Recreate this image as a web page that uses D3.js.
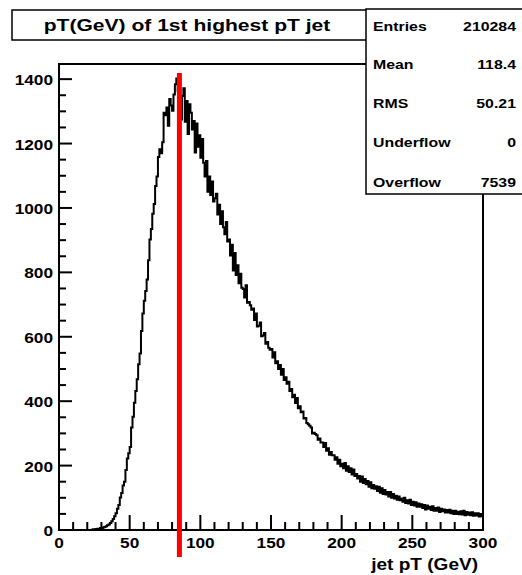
<!DOCTYPE html>
<html>
<head>
<meta charset="utf-8">
<script src="https://cdn.jsdelivr.net/npm/d3@7"></script>
<style>
  body { margin: 0; background: #fff; }
  text { font-family: "Liberation Sans", Arial, sans-serif; font-weight: bold; fill: #000; }
</style>
</head>
<body>
<div id="chart"></div>
<script>
// histogram contents, 1 GeV bins from 0 to 300
var counts = [
  0,0,0,0,0,0,0,0,0,0, 0,0,0,0,0,0,0,0,0,0, 0,0,0,
  1,2,1,3,4,3,6,5,8,9,12,15,17,22,27,34,43,
  52,66,78,101,115,138,150,186,222,238,
  258,318,352,395,432,468,515,548,618,672,
  712,742,778,838,902,935,982,1012,1068,1098,
  1158,1182,1170,1204,1296,1288,1312,1255,1338,1318,
  1302,1352,1384,1402,1362,1338,1275,1348,1372,1268,
  1332,1230,1322,1296,1244,1270,1172,1262,1190,1226,
  1156,1214,1140,1098,1146,1050,1098,1040,1082,1020,
  1030,1044,980,1010,950,990,940,918,956,896,
  902,852,886,806,860,792,822,766,796,752,
  748,722,760,706,708,698,684,688,652,672,
  632,634,644,602,604,612,578,584,566,560,
  562,536,552,518,524,500,512,482,500,466,
  474,454,460,432,438,412,420,394,410,378,
  384,366,368,346,348,332,328,324,318,300,
  302,298,294,280,284,272,272,258,270,246,
  254,234,242,232,232,218,226,206,218,198,
  206,192,208,184,198,180,192,172,188,168,
  174,160,168,150,166,146,158,142,152,134,
  148,130,140,128,136,121,134,116,130,112,
  124,110,118,104,118,100,112,98,106,94,
  104,92,98,88,100,84,92,82,94,78,
  88,76,86,72,82,72,80,68,78,64,
  76,66,72,62,74,60,68,60,70,56,
  66,58,64,54,62,54,63,52,60,50,
  60,50,57,49,58,48,60,46,56,47,
  54,46,55,44,52,45,52,42,50,43
];
var binWidth = 1;

var xMajor = [0, 50, 100, 150, 200, 250, 300];
var yMajor = [0, 200, 400, 600, 800, 1000, 1200, 1400];

var titleText = "pT(GeV) of 1st highest pT jet";
var xTitle = "jet pT (GeV)";

var statLabels = ["Entries", "Mean", "RMS", "Underflow", "Overflow"];
var statValues = ["210284", "118.4", "50.21", "0", "7539"];

// red marker line (GeV) and its vertical extent in counts
var markerPt = 85.2;
var markerRange = [-84, 1419];

var W = 522, H = 575;
var svg = d3.select("#chart").append("svg")
    .attr("width", W).attr("height", H);

var x = d3.scaleLinear().domain([0, 300]).range([59, 483]);
var y = d3.scaleLinear().domain([0, 1447]).range([530, 64]);

// stretched text like the original (rendered wider than tall)
function stext(g, str, px, py, size, sx, anchor) {
    return g.append("text")
        .attr("transform", "translate(" + px + "," + py + ") scale(" + sx + ",1)")
        .attr("text-anchor", anchor)
        .style("font-size", size + "px")
        .text(str);
}

// histogram step line
var pts = counts.map(function(c, i) { return [i * binWidth, c]; });
pts.push([counts.length * binWidth, counts[counts.length - 1]]);
var line = d3.line()
    .x(function(d) { return x(d[0]); })
    .y(function(d) { return y(d[1]); })
    .curve(d3.curveStepAfter);
svg.append("path")
    .datum(pts)
    .attr("d", line)
    .attr("fill", "none")
    .attr("stroke", "#000")
    .attr("stroke-width", 2);

// ticks (inward)
var ticks = svg.append("g").attr("stroke", "#000").attr("stroke-width", 2);
d3.range(0, 301, 10).forEach(function(v) {
    var major = v % 50 == 0;
    ticks.append("line")
        .attr("x1", x(v)).attr("x2", x(v))
        .attr("y1", y(0)).attr("y2", y(0) - (major ? 15 : 8));
});
d3.range(0, 1401, 50).forEach(function(v) {
    var major = v % 200 == 0;
    ticks.append("line")
        .attr("x1", x(0)).attr("x2", x(0) + (major ? 13 : 7))
        .attr("y1", y(v)).attr("y2", y(v));
});

// frame
svg.append("rect")
    .attr("x", x(0)).attr("y", y(1447))
    .attr("width", x(300) - x(0)).attr("height", y(0) - y(1447))
    .attr("fill", "none").attr("stroke", "#000").attr("stroke-width", 2);

// marker
svg.append("line")
    .attr("x1", x(markerPt)).attr("x2", x(markerPt))
    .attr("y1", y(markerRange[1])).attr("y2", y(markerRange[0]))
    .attr("stroke", "#ff0000").attr("stroke-width", 5);

// tick labels
yMajor.forEach(function(v) {
    stext(svg, String(v), 53, y(v) + 6, 15, 1.15, "end");
});
xMajor.forEach(function(v) {
    stext(svg, String(v), x(v), 548, 15, 1.15, "middle");
});

// axis title
stext(svg, xTitle, 478, 570, 16, 1.19, "end");

// title box
svg.append("rect")
    .attr("x", 12).attr("y", 10).attr("width", 358).attr("height", 30)
    .attr("fill", "#fff").attr("stroke", "#000").attr("stroke-width", 1.5);
stext(svg, titleText, 187, 31, 17, 1.24, "middle");

// stats box
svg.append("rect")
    .attr("x", 366).attr("y", 9).attr("width", 160).attr("height", 185)
    .attr("fill", "#fff").attr("stroke", "#000").attr("stroke-width", 1.5);
var rowY = [31, 69, 108, 147, 187];
statLabels.forEach(function(s, i) {
    stext(svg, s, 373, rowY[i], 13, 1.22, "start");
    stext(svg, statValues[i], 516, rowY[i], 13, 1.22, "end");
});
</script>
</body>
</html>
